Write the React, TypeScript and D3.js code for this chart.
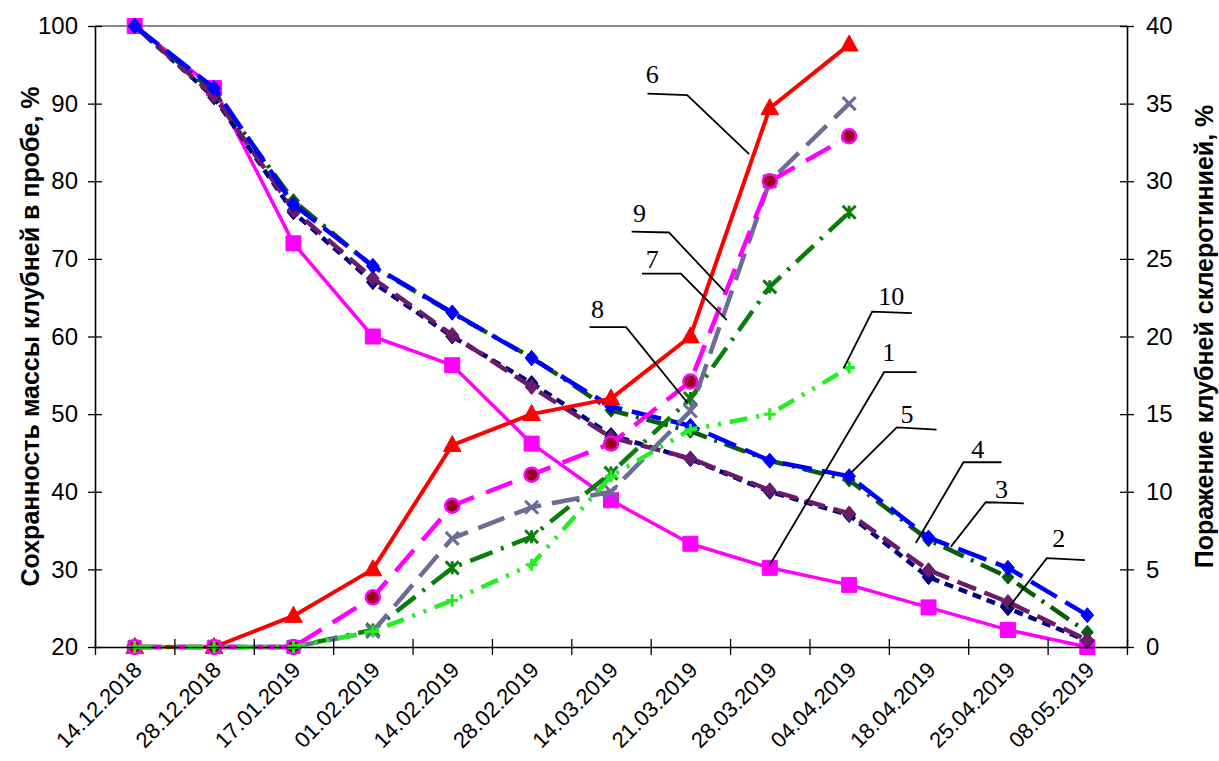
import { useEffect, useRef } from "react";
import * as d3 from "d3";

// categories (sampling dates)
const dates = [
  "14.12.2018", "28.12.2018", "17.01.2019", "01.02.2019", "14.02.2019", "28.02.2019",
  "14.03.2019", "21.03.2019", "28.03.2019", "04.04.2019", "18.04.2019", "25.04.2019", "08.05.2019",
];
const massTicks = [20, 30, 40, 50, 60, 70, 80, 90, 100];
const lesionTicks = [0, 5, 10, 15, 20, 25, 30, 35, 40];

// left axis: mass retention, %
const mass1 = [100, 92, 72, 60, 56.3, 46.2, 38.9, 33.3, 30.2, 28, 25.1, 22.2, 20];
const mass2 = [100, 90.8, 76, 67, 60, 54, 47.3, 44.2, 40, 37, 29, 25, 20.8];
const mass3 = [100, 91.5, 77.5, 69, 63, 57.3, 50.5, 47.8, 44, 41.5, 33.8, 29, 21.9];
const mass4 = [100, 91, 76.3, 67.5, 60.2, 53.5, 47, 44.3, 40.2, 37.2, 29.9, 25.8, 20.9];
const mass5 = [100, 92, 77, 69.1, 63.1, 57.2, 51, 48.5, 44, 42, 34.1, 30.2, 24.1];

// right axis: sclerotinia lesion, %
const lesion6 = [0, 0, 2, 5, 13, 15, 16, 20, 34.7, 38.8];
const lesion7 = [0, 0, 0, 1.1, 5.1, 7.1, 11.2, 16, 23.2, 28];
const lesion8 = [0, 0, 0, 1, 7, 9, 10, 15.2, 30, 35];
const lesion9 = [0, 0, 0, 3.2, 9.1, 11.1, 13.1, 17.1, 30, 32.9];
const lesion10 = [0, 0, 0, 1, 3, 5.3, 11, 14, 15, 18];

const W = 1219;
const H = 761;
const plot = { left: 95, right: 1127, top: 26, bottom: 647 };
const sans = "'Liberation Sans', Arial, sans-serif";
const serif = "'Liberation Serif', 'Times New Roman', serif";

type Marker = "square" | "diamond" | "triangle" | "circle" | "x" | "asterisk" | "plus";
type Series = {
  values: number[];
  axis: "mass" | "lesion";
  color: string;
  width: number;
  dash: string;
  marker: Marker;
  size: number;
  fill?: string;
};

const series: Series[] = [
  { values: mass1, axis: "mass", color: "#ff00ff", width: 3.5, dash: "", marker: "square", size: 15 },
  { values: mass2, axis: "mass", color: "#000080", width: 4.5, dash: "9 6", marker: "diamond", size: 15 },
  { values: mass3, axis: "mass", color: "#0a5c0a", width: 4.5, dash: "22 8 3 8", marker: "diamond", size: 14 },
  { values: mass4, axis: "mass", color: "#6a1b6a", width: 4.5, dash: "20 9", marker: "diamond", size: 15 },
  { values: mass5, axis: "mass", color: "#0000ff", width: 4.5, dash: "30 10", marker: "diamond", size: 15 },
  { values: lesion6, axis: "lesion", color: "#ff0000", width: 4, dash: "", marker: "triangle", size: 16 },
  { values: lesion7, axis: "lesion", color: "#0b7d0b", width: 4.5, dash: "24 9 3 9", marker: "asterisk", size: 13 },
  { values: lesion8, axis: "lesion", color: "#6c6c98", width: 4.5, dash: "28 11", marker: "x", size: 13 },
  { values: lesion9, axis: "lesion", color: "#ff00ff", width: 4.5, dash: "28 13", marker: "circle", size: 14, fill: "#990022" },
  { values: lesion10, axis: "lesion", color: "#22ee22", width: 4.5, dash: "18 9 3 9 3 9", marker: "plus", size: 12 },
];

// callouts in data units: [category index, left-axis value]
const callouts: { label: string; text: [number, number]; path: [number, number][] }[] = [
  { label: "6", text: [6.52, 92.7], path: [[6.46, 91.3], [6.96, 91.1], [7.74, 83.5]] },
  { label: "9", text: [6.36, 74.8], path: [[6.26, 73.5], [6.73, 73.4], [7.43, 65.8]] },
  { label: "7", text: [6.52, 68.8], path: [[6.39, 68.1], [6.88, 68.1], [7.46, 62.1]] },
  { label: "8", text: [5.83, 62.4], path: [[5.73, 61.2], [6.19, 61.2], [6.96, 51.5]] },
  { label: "10", text: [9.53, 64.0], path: [[8.93, 55.9], [9.29, 63.2], [9.79, 63.0]] },
  { label: "1", text: [9.5, 56.9], path: [[7.99, 30.4], [9.44, 55.4], [9.85, 55.4]] },
  { label: "5", text: [9.73, 48.9], path: [[9.02, 42.4], [9.6, 48.3], [10.1, 48.0]] },
  { label: "4", text: [10.62, 44.3], path: [[9.84, 33.4], [10.44, 43.8], [10.92, 43.8]] },
  { label: "3", text: [10.92, 39.2], path: [[10.28, 32.9], [10.72, 38.65], [11.2, 38.5]] },
  { label: "2", text: [11.64, 32.9], path: [[11.01, 25.1], [11.49, 31.45], [11.97, 31.2]] },
];

function markerPath(m: Marker, s: number) {
  const h = s / 2;
  switch (m) {
    case "square":
      return `M${-h},${-h}h${s}v${s}h${-s}Z`;
    case "diamond":
      return `M0,${-h}L${h * 0.85},0L0,${h}L${-h * 0.85},0Z`;
    case "triangle":
      return `M0,${-s * 0.6}L${s * 0.55},${s * 0.4}L${-s * 0.55},${s * 0.4}Z`;
    case "x":
      return `M${-h},${-h}L${h},${h}M${-h},${h}L${h},${-h}`;
    case "asterisk":
      return `M${-h},${-h}L${h},${h}M${-h},${h}L${h},${-h}M0,${-h}V${h}`;
    case "plus":
      return `M${-h},0H${h}M0,${-h}V${h}`;
    default:
      return "";
  }
}

export default function App() {
  const leftRef = useRef<SVGGElement>(null);
  const rightRef = useRef<SVGGElement>(null);
  const bottomRef = useRef<SVGGElement>(null);

  const x = d3.scaleBand<string>().domain(dates).range([plot.left, plot.right]).padding(0);
  const xi = d3.scaleLinear().domain([-0.5, dates.length - 0.5]).range([plot.left, plot.right]);
  const yMass = d3.scaleLinear().domain([20, 100]).range([plot.bottom, plot.top]);
  const yLes = d3.scaleLinear().domain([0, 40]).range([plot.bottom, plot.top]);
  const cx = (i: number) => (x(dates[i]) ?? 0) + x.bandwidth() / 2;

  useEffect(() => {
    const style = (g: d3.Selection<SVGGElement, unknown, null, undefined>) => {
      g.select(".domain").attr("stroke", "#000").attr("stroke-width", 1.6);
      g.selectAll(".tick line").attr("stroke", "#000").attr("stroke-width", 1.3);
      g.selectAll(".tick text")
        .attr("font-family", sans)
        .attr("font-size", 24)
        .attr("fill", "#000");
    };
    if (leftRef.current) {
      const g = d3.select(leftRef.current);
      g.selectAll("*").remove();
      g.call(d3.axisLeft(yMass).tickValues(massTicks).tickSizeInner(7).tickSizeOuter(0).tickPadding(10));
      g.attr("font-family", null).attr("font-size", null);
      g.selectAll(".tick line").attr("x1", 7);
      style(g);
    }
    if (rightRef.current) {
      const g = d3.select(rightRef.current);
      g.selectAll("*").remove();
      g.call(d3.axisRight(yLes).tickValues(lesionTicks).tickSizeInner(7).tickSizeOuter(0).tickPadding(12));
      g.attr("font-family", null).attr("font-size", null);
      g.selectAll(".tick line").attr("x1", -7);
      style(g);
    }
    if (bottomRef.current) {
      const g = d3.select(bottomRef.current);
      g.selectAll("*").remove();
      g.call(
        d3.axisBottom(xi)
          .tickValues(d3.range(dates.length + 1).map((i) => i - 0.5))
          .tickFormat(() => "")
          .tickSizeInner(8)
          .tickSizeOuter(0)
      );
      g.selectAll(".tick line").attr("y1", -8);
      style(g);
    }
  }, []);

  return (
    <svg width={W} height={H} style={{ position: "absolute", left: 0, top: 0, background: "#fff" }}>
      <rect width={W} height={H} fill="#fff" />
      {/* top border of plot area */}
      <line x1={plot.left} x2={plot.right} y1={yMass(100)} y2={yMass(100)} stroke="#888" strokeWidth={1.8} />

      {series.map((s, k) => {
        const y = s.axis === "mass" ? yMass : yLes;
        const line = d3.line<number>().x((_, i) => cx(i)).y((v) => y(v));
        return (
          <g key={k}>
            <path d={line(s.values) ?? ""} fill="none" stroke={s.color} strokeWidth={s.width}
              strokeDasharray={s.dash || undefined} strokeLinejoin="round" />
            {s.values.map((v, i) =>
              s.marker === "circle" ? (
                <circle key={i} cx={cx(i)} cy={y(v)} r={s.size / 2} fill={s.fill} stroke={s.color} strokeWidth={2.5} />
              ) : (
                <path key={i} transform={`translate(${cx(i)},${y(v)})`} d={markerPath(s.marker, s.size)}
                  fill={["square", "diamond", "triangle"].includes(s.marker) ? s.color : "none"}
                  stroke={s.color} strokeWidth={["x", "asterisk", "plus"].includes(s.marker) ? 3 : 1} />
              )
            )}
          </g>
        );
      })}

      <g ref={leftRef} transform={`translate(${plot.left},0)`} />
      <g ref={rightRef} transform={`translate(${plot.right},0)`} />
      <g ref={bottomRef} transform={`translate(0,${plot.bottom})`} />

      {dates.map((d, i) => (
        <text key={d} transform={`translate(${cx(i) + 3},${plot.bottom + 19}) rotate(-45)`} textAnchor="end"
          dy="0.35em" fontFamily={sans} fontSize={22} fill="#000">
          {d}
        </text>
      ))}

      {callouts.map((c) => (
        <g key={c.label}>
          <path d={d3.line<[number, number]>().x((p) => xi(p[0])).y((p) => yMass(p[1]))(c.path) ?? ""}
            fill="none" stroke="#000" strokeWidth={1.8} />
          <text x={xi(c.text[0])} y={yMass(c.text[1])} textAnchor="middle" fontFamily={serif} fontSize={26} fill="#000">
            {c.label}
          </text>
        </g>
      ))}

      <text transform={`translate(30,${(plot.top + plot.bottom) / 2}) rotate(-90)`} textAnchor="middle" dy="0.35em"
        fontFamily={sans} fontWeight="bold" fontSize={25} fill="#000">
        Сохранность массы клубней в пробе, %
      </text>
      <text transform={`translate(1204,${(plot.top + plot.bottom) / 2}) rotate(-90)`} textAnchor="middle" dy="0.35em"
        fontFamily={sans} fontWeight="bold" fontSize={25} fill="#000">
        Поражение клубней склеротинией, %
      </text>
    </svg>
  );
}
